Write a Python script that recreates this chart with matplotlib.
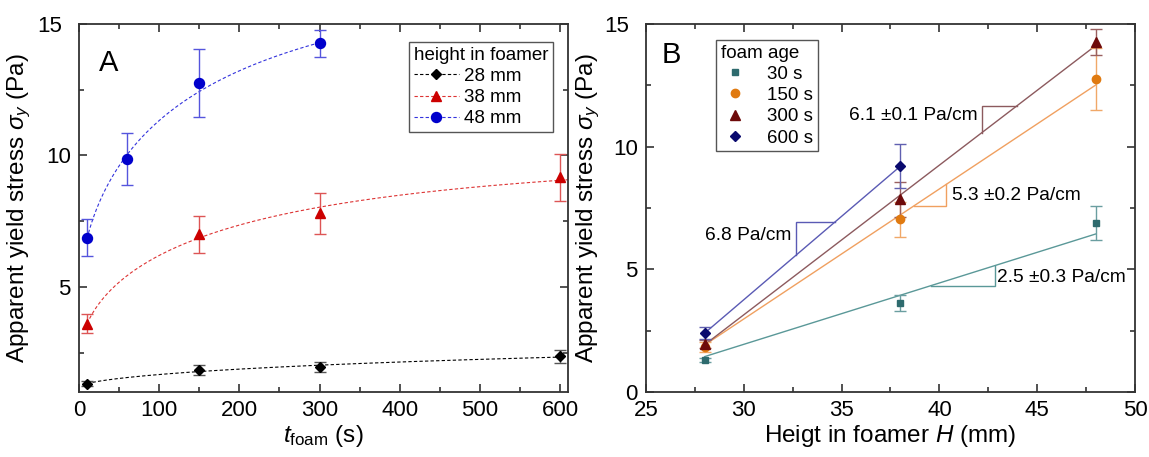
import numpy as np
import matplotlib
matplotlib.use("Agg")
import matplotlib.pyplot as plt
from matplotlib.lines import Line2D
from matplotlib.transforms import ScaledTranslation

plt.rcParams["font.family"] = ["Liberation Sans", "DejaVu Sans"]
plt.rcParams["mathtext.fontset"] = "custom"
plt.rcParams["mathtext.rm"] = "Liberation Sans"
plt.rcParams["mathtext.it"] = "Liberation Sans:italic"
plt.rcParams["mathtext.sf"] = "Liberation Sans"

# ---- Panel A: yield stress vs. foam age for three heights ----
heights_a = ["28 mm", "38 mm", "48 mm"]
t_28 = [10, 150, 300, 600]
s_28 = [1.32, 1.84, 1.96, 2.36]
e_28 = [0.08, 0.19, 0.18, 0.24]
t_38 = [10, 150, 300, 600]
s_38 = [3.6, 7.0, 7.8, 9.17]
e_38 = [0.35, 0.7, 0.78, 0.9]
t_48 = [10, 60, 150, 300]
s_48 = [6.87, 9.86, 12.75, 14.27]
e_48 = [0.7, 1.0, 1.28, 0.52]

# ---- Panel B: yield stress vs. height for four foam ages ----
ages_b = ["30 s", "150 s", "300 s", "600 s"]
h_full = [28, 38, 48]
h_short = [28, 38]
s_30 = [1.32, 3.63, 6.88]
e_30 = [0.08, 0.33, 0.69]
s_150 = [1.84, 7.04, 12.77]
e_150 = [0.19, 0.71, 1.27]
s_300 = [1.96, 7.85, 14.27]
e_300 = [0.18, 0.72, 0.52]
s_600 = [2.39, 9.21]
e_600 = [0.24, 0.9]
slopes_pa_cm = [2.5, 5.3, 6.1, 6.8]
slope_texts = ["2.5 \u00b10.3 Pa/cm", "5.3 \u00b10.2 Pa/cm", "6.1 \u00b10.1 Pa/cm", "6.8 Pa/cm"]

STRETCH = 0.6  # stretching exponent of the ageing model


def saturating_fit(t, y, err):
    """Error-weighted fit of y = a + b (1 - exp(-(t/tau)^beta)), tau by grid search."""
    t = np.asarray(t, float)
    y = np.asarray(y, float)
    w = 1.0 / np.asarray(err, float)
    best = None
    for tau in np.linspace(5, 3000, 6000):
        X = np.column_stack([np.ones_like(t), 1 - np.exp(-(t / tau) ** STRETCH)])
        coef, *_ = np.linalg.lstsq(X * w[:, None], y * w, rcond=None)
        r = np.sum(((X @ coef - y) * w) ** 2)
        if best is None or r < best[0]:
            best = (r, coef, tau)
    _, (a, b), tau = best
    return lambda tt: a + b * (1 - np.exp(-(np.asarray(tt) / tau) ** STRETCH))


def style_axes(ax):
    ax.tick_params(which="both", direction="in", top=True, right=True,
                   labelsize=16, width=1.1, color="#222222", pad=6)
    ax.tick_params(which="major", length=6)
    ax.tick_params(which="minor", length=3.5)
    for sp in ax.spines.values():
        sp.set_linewidth(1.3)
        sp.set_color("#333333")


def nudge_top_ylabel(ax, fig, dx_px):
    tick = ax.yaxis.get_major_ticks()[-1]
    tick.label1.set_transform(tick.label1.get_transform()
                              + ScaledTranslation(dx_px / fig.dpi, 0, fig.dpi_scale_trans))


fig = plt.figure(figsize=(11.49, 4.57), dpi=100)
axA = fig.add_axes([0.0688, 0.1422, 0.4256, 0.8053])
axB = fig.add_axes([0.5622, 0.1422, 0.4256, 0.8053])

# ---------------- Panel A ----------------
series_a = [
    (t_28, s_28, e_28, "D", 5.2, "#000000", "#555555", "#000000", 600),
    (t_38, s_38, e_38, "^", 7.0, "#cc0000", "#dd5555", "#dd3333", 610),
    (t_48, s_48, e_48, "o", 7.2, "#0000cc", "#5555dd", "#3333dd", 300),
]
handles_a = []
for (t, s, e, mk, ms, col, ecol, lcol, tmax), lab in zip(series_a, heights_a):
    f = saturating_fit(t, s, e)
    tt = np.linspace(t[0], tmax, 300)
    axA.plot(tt, f(tt), ls=(0, (3, 2)), lw=0.8, color=lcol, zorder=2)
    axA.errorbar(t, s, yerr=e, fmt="none", ecolor=ecol, elinewidth=1.0,
                 capsize=4.5, capthick=1.0, zorder=3)
    axA.plot(t, s, ls="none", marker=mk, ms=ms, color=col, mec=col, zorder=4)
    handles_a.append(Line2D([], [], ls=(0, (3, 2)), lw=0.8, color=lcol,
                            marker=mk, ms=ms, mfc=col, mec=col))

axA.set_xlim(0, 610)
axA.set_ylim(1, 15)
axA.set_xticks(np.arange(0, 601, 100))
axA.set_xticks(np.arange(50, 601, 100), minor=True)
axA.set_yticks([5, 10, 15])
axA.set_yticks([2.5, 7.5, 12.5], minor=True)
style_axes(axA)
nudge_top_ylabel(axA, fig, -9)
axA.set_xlabel(r"$t_\mathrm{foam}$ (s)", fontsize=17.5, labelpad=1)
axA.set_ylabel(r"Apparent yield stress $\sigma_y$ (Pa)", fontsize=17.5)
axA.yaxis.set_label_coords(-0.094, 0.5)
axA.text(0.061, 0.894, "A", transform=axA.transAxes, fontsize=21,
         ha="center", va="center")
legA = axA.legend(handles_a, heights_a, title="height in foamer",
                  loc="upper right", bbox_to_anchor=(0.969, 0.951),
                  borderaxespad=0, fontsize=13.5, title_fontsize=13.5,
                  frameon=True, fancybox=False, framealpha=1,
                  edgecolor="#555555", handlelength=2.4, handletextpad=0.3,
                  labelspacing=0.22, borderpad=0.25, alignment="left")
legA.get_frame().set_linewidth(1.0)

# ---------------- Panel B ----------------
series_b = [
    (h_full, s_30, e_30, "s", 5.0, "#2e6b6e", "#6a9ea0", "#5a9898", 48),
    (h_full, s_150, e_150, "o", 6.0, "#e07a10", "#f0a868", "#f0a060", 48),
    (h_full, s_300, e_300, "^", 7.0, "#6e0a0a", "#9a6060", "#8c5a5e", 48),
    (h_short, s_600, e_600, "D", 5.0, "#0a0a6e", "#6060b0", "#5a5ab4", 38),
]
fits_b = []
handles_b = []
for (h, s, e, mk, ms, col, ecol, lcol, hmax), m_cm in zip(series_b, slopes_pa_cm):
    m = m_cm / 10.0  # Pa/mm
    b = np.mean(np.asarray(s) - m * np.asarray(h))
    fits_b.append((m, b, lcol))
    hh = np.array([h[0], hmax])
    axB.plot(hh, m * hh + b, lw=1.0, color=lcol, zorder=2)
    axB.errorbar(h, s, yerr=e, fmt="none", ecolor=ecol, elinewidth=1.0,
                 capsize=4, capthick=1.0, zorder=3)
    axB.plot(h, s, ls="none", marker=mk, ms=ms, color=col, mec=col, zorder=4)
    handles_b.append(Line2D([], [], ls="none", marker=mk, ms=ms, mfc=col, mec=col))


def slope_triangle(ax, m, b, h1, h2, upper, color):
    y1, y2 = m * h1 + b, m * h2 + b
    if upper:
        xs, ys = [h1, h1, h2], [y1, y2, y2]
    else:
        xs, ys = [h1, h2, h2], [y1, y1, y2]
    ax.plot(xs, ys, lw=1.0, color=color, zorder=2, solid_joinstyle="miter")


# slope markers: (series index, h1, h2, triangle above line, text x, text y, ha)
tri_specs = [
    (0, 39.58, 42.84, False, 42.95, 4.65, "left"),
    (1, 38.69, 40.36, False, 40.62, 8.0, "left"),
    (2, 42.17, 43.96, True, 41.93, 11.25, "right"),
    (3, 32.67, 34.64, True, 32.45, 6.36, "right"),
]
for idx, h1, h2, up, tx, ty, ha in tri_specs:
    m, b, lcol = fits_b[idx]
    slope_triangle(axB, m, b, h1, h2, up, lcol)
    axB.text(tx, ty, slope_texts[idx], fontsize=13.8, ha=ha, va="center")

axB.set_xlim(25, 50)
axB.set_ylim(0, 15)
axB.set_xticks(np.arange(25, 51, 5))
axB.set_xticks(np.arange(27.5, 50, 5), minor=True)
axB.set_yticks([0, 5, 10, 15])
axB.set_yticks([2.5, 7.5, 12.5], minor=True)
style_axes(axB)
nudge_top_ylabel(axB, fig, -9)
axB.set_xlabel(r"Heigt in foamer $H$ (mm)", fontsize=17.5, labelpad=1)
axB.set_ylabel(r"Apparent yield stress $\sigma_y$ (Pa)", fontsize=17.5)
axB.yaxis.set_label_coords(-0.09, 0.5)
axB.text(0.051, 0.916, "B", transform=axB.transAxes, fontsize=21,
         ha="center", va="center")
legB = axB.legend(handles_b, ages_b, title="foam age",
                  loc="upper left", bbox_to_anchor=(0.143, 0.957),
                  borderaxespad=0, fontsize=13.5, title_fontsize=13.5,
                  frameon=True, fancybox=False, framealpha=1,
                  edgecolor="#555555", handlelength=1.5, handletextpad=1.0,
                  labelspacing=0.22, borderpad=0.25, alignment="left")
legB.get_frame().set_linewidth(1.0)

fig.savefig("out.png", dpi=100)
